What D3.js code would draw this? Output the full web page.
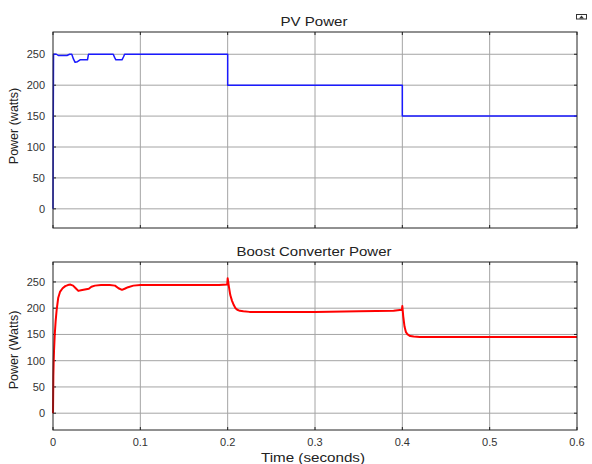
<!DOCTYPE html>
<html>
<head>
<meta charset="utf-8">
<script src="https://cdn.jsdelivr.net/npm/d3@7"></script>
<style>
  body { margin: 0; background: #fff; }
  text { font-family: "Liberation Sans", Arial, sans-serif; }
</style>
</head>
<body>
<script>
// data
var xTicks = [0, 0.1, 0.2, 0.3, 0.4, 0.5, 0.6]
var yTicks = [0, 50, 100, 150, 200, 250]

var pvTime = [0, 0.0003, 0.0006, 0.004, 0.006, 0.010, 0.016, 0.019, 0.0215, 0.0235, 0.0253, 0.028, 0.031, 0.0395, 0.0406,
    0.069, 0.0705, 0.072, 0.079, 0.0808, 0.082, 0.2, 0.2, 0.4, 0.4, 0.6]
var pvPower = [0, 150, 250, 250, 248, 248, 248, 250, 250, 242, 237, 238, 241, 241, 250,
    250, 245, 241, 241, 246, 250, 250, 200, 200, 150, 150]

var bcTime = [0, 0.0004, 0.0008, 0.0012, 0.002, 0.003, 0.0042, 0.006, 0.008, 0.011, 0.014, 0.017, 0.020, 0.023, 0.026,
    0.029, 0.032, 0.035, 0.038, 0.041, 0.044, 0.048, 0.055, 0.065, 0.071, 0.075, 0.079, 0.082, 0.086, 0.092,
    0.1, 0.13, 0.16, 0.19, 0.1995, 0.2, 0.2015, 0.203, 0.205, 0.207, 0.209, 0.211, 0.214, 0.218, 0.225,
    0.25, 0.3, 0.35, 0.39, 0.3995, 0.4, 0.401, 0.4025, 0.404, 0.406, 0.409, 0.413, 0.42, 0.45, 0.5, 0.55, 0.6]
var bcPower = [0, 70, 100, 120, 150, 175, 197, 220, 231, 238, 242, 244, 245, 243, 238,
    233, 234, 235, 236, 237, 241, 243, 244, 244, 243, 238, 235, 237, 240, 243,
    244, 244, 244, 244, 245, 257, 240, 225, 214, 206, 200, 197, 195, 194, 193,
    193, 193, 194, 195, 197, 204, 185, 165, 155, 150, 147, 146, 145, 145, 145, 145, 145]

var w = 592,
    h = 464

var svg = d3.select('body').append('svg')
    .attr('width', w)
    .attr('height', h)

var x = d3.scaleLinear().domain([0, 0.6]).range([53, 577])

//draws one panel: frame, grid, ticks, title, label and line
function panel(opts) {
    var y = d3.scaleLinear().domain(opts.domain).range([opts.bottom, opts.top])
    var g = svg.append('g')
    var x0 = x.range()[0], x1 = x.range()[1]

    g.append('rect')
        .attr('x', x0).attr('y', opts.top)
        .attr('width', x1 - x0).attr('height', opts.bottom - opts.top)
        .attr('fill', '#fff')

    //grid
    g.selectAll('.gx').data(xTicks.slice(1, -1)).enter().append('line')
        .attr('x1', function(d) { return x(d) }).attr('x2', function(d) { return x(d) })
        .attr('y1', opts.top).attr('y2', opts.bottom)
        .attr('stroke', '#a4a4a4').attr('stroke-width', 1)
    g.selectAll('.gy').data(yTicks).enter().append('line')
        .attr('x1', x0).attr('x2', x1)
        .attr('y1', function(d) { return y(d) }).attr('y2', function(d) { return y(d) })
        .attr('stroke', '#a4a4a4').attr('stroke-width', 1)

    //inward ticks on all four sides
    var tk = 3
    xTicks.forEach(function(d) {
        g.append('line').attr('x1', x(d)).attr('x2', x(d)).attr('y1', opts.bottom).attr('y2', opts.bottom - tk).attr('stroke', '#222')
        g.append('line').attr('x1', x(d)).attr('x2', x(d)).attr('y1', opts.top).attr('y2', opts.top + tk).attr('stroke', '#222')
    })
    yTicks.forEach(function(d) {
        g.append('line').attr('x1', x0).attr('x2', x0 + tk).attr('y1', y(d)).attr('y2', y(d)).attr('stroke', '#222')
        g.append('line').attr('x1', x1).attr('x2', x1 - tk).attr('y1', y(d)).attr('y2', y(d)).attr('stroke', '#222')
    })

    //y tick labels
    g.selectAll('.yl').data(yTicks).enter().append('text')
        .attr('x', x0 - 8).attr('y', function(d) { return y(d) + 4 })
        .attr('text-anchor', 'end')
        .attr('font-size', 11).attr('fill', '#333')
        .text(function(d) { return d })

    //line
    var pts = d3.zip(opts.t, opts.v)
    g.append('path')
        .datum(pts)
        .attr('d', d3.line().x(function(d) { return x(d[0]) }).y(function(d) { return y(d[1]) }))
        .attr('fill', 'none')
        .attr('stroke', opts.color)
        .attr('stroke-width', opts.lw)
        .attr('stroke-linejoin', 'round')

    //frame
    g.append('rect')
        .attr('x', x0).attr('y', opts.top)
        .attr('width', x1 - x0).attr('height', opts.bottom - opts.top)
        .attr('fill', 'none').attr('stroke', '#222').attr('stroke-width', 1)

    g.append('text')
        .attr('x', 314).attr('y', opts.top - 6)
        .attr('text-anchor', 'middle').attr('font-size', 13.5).attr('fill', '#222')
        .attr('textLength', opts.titleLen).attr('lengthAdjust', 'spacingAndGlyphs')
        .text(opts.title)

    g.append('text')
        .attr('transform', 'translate(18,' + opts.labelY + ') rotate(-90)')
        .attr('text-anchor', 'middle').attr('font-size', 12.5).attr('fill', '#222')
        .text(opts.ylabel)

    return y
}

panel({ top: 32, bottom: 228, domain: [-31, 286], title: 'PV Power', titleLen: 67, ylabel: 'Power (watts)', labelY: 126,
    t: pvTime, v: pvPower, color: '#1a1aff', lw: 1.5 })
panel({ top: 262, bottom: 430, domain: [-32, 288], title: 'Boost Converter Power', titleLen: 155, ylabel: 'Power (Watts)', labelY: 350,
    t: bcTime, v: bcPower, color: '#ff0000', lw: 2 })

//x tick labels, bottom panel only
svg.selectAll('.xl').data(xTicks).enter().append('text')
    .attr('x', function(d) { return x(d) }).attr('y', 446)
    .attr('text-anchor', 'middle').attr('font-size', 11).attr('fill', '#333')
    .text(function(d) { return d })

svg.append('text')
    .attr('x', 313).attr('y', 462)
    .attr('text-anchor', 'middle').attr('font-size', 12.5).attr('fill', '#222')
    .attr('textLength', 104).attr('lengthAdjust', 'spacingAndGlyphs')
    .text('Time (seconds)')

//small figure icon at top right
svg.append('rect').attr('x', 576.5).attr('y', 14.5).attr('width', 10).attr('height', 4.5)
    .attr('fill', '#fff').attr('stroke', '#333').attr('stroke-width', 1)
svg.append('path').attr('d', 'M579,18.5 L581.5,15.5 L584,18.5 Z').attr('fill', '#333')
</script>
</body>
</html>
